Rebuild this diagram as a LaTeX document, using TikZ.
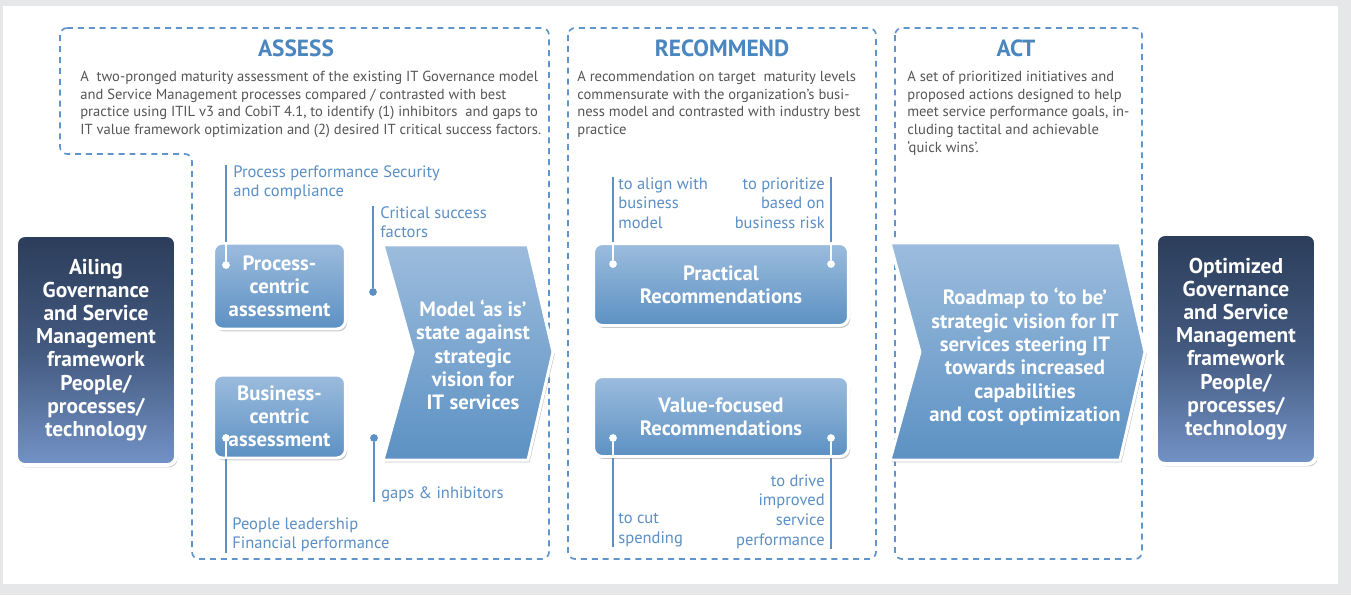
\documentclass[tikz,border=0pt]{standalone}
\usepackage{fontspec}
\setmainfont{PT Sans}
\usetikzlibrary{positioning,calc,shadows}
\definecolor{titleblue}{HTML}{4A86C0}
\definecolor{tagblue}{HTML}{5B8FC6}
\definecolor{dashblue}{HTML}{5F94CC}
\definecolor{descgray}{HTML}{555555}
\definecolor{boxtop}{HTML}{9CBCDD}
\definecolor{boxbot}{HTML}{5C91C3}
\definecolor{navytop}{HTML}{2B3D5A}
\definecolor{navymid}{HTML}{43597F}
\definecolor{navybot}{HTML}{7393C6}
\definecolor{panelgray}{HTML}{E6E7E8}
\tikzset{
    x=0.02cm, y=-0.02cm,
    phase/.style={draw=dashblue, line width=0.95pt, dash pattern=on 3.4pt off 2.8pt, rounded corners=4pt},
    phasetitle/.style={text=titleblue, font=\bfseries\fontsize{13.3}{15}\selectfont},
    phasetext/.style={text=descgray, font=\fontsize{8.3}{10}\selectfont, align=left, anchor=north west, inner sep=0pt},
    softshadow/.style={drop shadow={shadow xshift=0.9pt, shadow yshift=-1.4pt, fill=black, opacity=0.22}},
    endbox/.style={draw=white, line width=2.2pt, rounded corners=5pt, top color=navytop, bottom color=navybot, middle color=navymid,
        text=white, font=\bfseries\fontsize{12.2}{13.2}\selectfont, align=center, inner sep=0pt, softshadow},
    stepbox/.style={draw=white, line width=1.7pt, rounded corners=5pt, top color=boxtop, bottom color=boxbot,
        text=white, font=\bfseries\fontsize{11.8}{13.1}\selectfont, align=center, inner sep=0pt, softshadow},
    chevron/.style={draw=white, line width=1.7pt, top color=boxtop, bottom color=boxbot, softshadow},
    chevtext/.style={text=white, font=\bfseries\fontsize{11.8}{13.3}\selectfont, align=center},
    tag/.style={text=tagblue, font=\fontsize{9.4}{11.3}\selectfont, inner sep=0pt},
    tagline/.style={draw=tagblue, line width=1.1pt},
    tagdot/.style={circle, inner sep=0pt, minimum size=4.4pt}
}

\begin{document}
\begin{tikzpicture}
    \useasboundingbox (0,0) rectangle (1351,595);
    \fill[panelgray] (0,0) rectangle (1351,595);
    \fill[white] (3,6) rectangle (1338,584);

    % the three phases
    \draw[phase] (60,28) -- (549,28) -- (549,559) -- (192,559) -- (192,154) -- (60,154) -- cycle;
    \draw[phase] (568,28) rectangle (876,559);
    \draw[phase] (895,28) rectangle (1142,559);

    \node[phasetitle] (assess) at (296,48) {ASSESS};
    \node[phasetitle] (recommend) at (722,48) {RECOMMEND};
    \node[phasetitle] (act) at (1016,48) {ACT};

    \node[phasetext] (assesstxt) at (80,71) {A\ \ two-pronged maturity assessment of the existing IT Governance model\\
        and Service Management processes compared / contrasted with best\\
        practice using ITIL v3 and CobiT 4.1, to identify (1) inhibitors\ \ and gaps to\\
        IT value framework optimization and (2) desired IT critical success factors.};
    \node[phasetext] (recotxt) at (577,71) {A recommendation on target\ \ maturity levels\\
        commensurate with the organization’s busi-\\
        ness model and contrasted with industry best\\
        practice};
    \node[phasetext] (acttxt) at (907,71) {A set of prioritized initiatives and\\
        proposed actions designed to help\\
        meet service performance goals, in-\\
        cluding tactital and achievable\\
        ‘quick wins’.};

    % start and end state
    \node[endbox, minimum width=3.2cm, minimum height=4.6cm] (ailing) at (96,350)
        {Ailing\\Governance\\and Service\\Management\\framework\\People/\\processes/\\technology};
    \node[endbox, minimum width=3.2cm, minimum height=4.6cm] (optimized) at (1236,349)
        {Optimized\\Governance\\and Service\\Management\\framework\\People/\\processes/\\technology};

    % assessment boxes
    \node[stepbox, minimum width=2.64cm, minimum height=1.72cm] (proc) at (279.5,286) {Process-\\centric\\assessment};
    \node[stepbox, minimum width=2.64cm, minimum height=1.66cm] (bus) at (279.5,416.5) {Business-\\centric\\assessment};

    % recommendation boxes
    \node[stepbox, minimum width=5.1cm, minimum height=1.64cm] (prac) at (721,284.5) {Practical\\Recommendations};
    \node[stepbox, minimum width=5.1cm, minimum height=1.6cm] (valf) at (721,416.5) {Value-focused\\Recommendations};

    % chevrons
    \path[chevron] (383,245) -- (528,245) -- (553,352) -- (528,460) -- (383,460) -- (413,352) -- cycle;
    \node[chevtext] (asis) at (473,355) {Model ‘as is’\\state against\\strategic\\vision for\\IT services};
    \path[chevron] (890,243) -- (1120,243) -- (1145,352) -- (1120,460) -- (890,460) -- (920,352) -- cycle;
    \node[chevtext] (roadmap) at (1025,357) {Roadmap to ‘to be’\\strategic vision for IT\\services steering IT\\towards increased\\capabilities\\and cost optimization};

    % callouts of the assessment
    \node[tag, anchor=north west, align=left] (perf) at (233,165) {Process performance Security\\and compliance};
    \node[tagdot, fill=white] (perfdot) at (226,265) {};
    \draw[tagline] (perfdot |- perf.north) -- (perfdot |- proc.north);
    \draw[tagline, draw=white] (perfdot |- proc.north) -- (perfdot);

    \node[tag, anchor=north west, align=left] (csf) at (380,206) {Critical success\\factors};
    \node[tagdot, fill=tagblue] (csfdot) at (373,292) {};
    \draw[tagline] (csfdot |- csf.north) -- (csfdot);

    \node[tag, anchor=north west, align=left] (people) at (232,517) {People leadership\\Financial performance};
    \node[tagdot, fill=white] (peopledot) at (226,438) {};
    \draw[tagline, draw=white] (peopledot) -- (peopledot |- bus.south);
    \draw[tagline] (peopledot |- bus.south) -- (peopledot |- people.south);

    \node[tag, anchor=north west, align=left] (gaps) at (381,486) {gaps \& inhibitors};
    \node[tagdot, fill=tagblue] (gapsdot) at (374,438) {};
    \draw[tagline] (gapsdot) -- (gapsdot |- gaps.south);

    % callouts of the recommendations
    \node[tag, anchor=north west, align=left] (align) at (618,177) {to align with\\business\\model};
    \node[tagdot, fill=white] (aligndot) at (613,264) {};
    \draw[tagline] (aligndot |- align.north) -- (aligndot |- prac.north);
    \draw[tagline, draw=white] (aligndot |- prac.north) -- (aligndot);

    \node[tag, anchor=north east, align=right] (risk) at (825,177) {to prioritize\\based on\\business risk};
    \node[tagdot, fill=white] (riskdot) at (831,264) {};
    \draw[tagline] (riskdot |- risk.north) -- (riskdot |- prac.north);
    \draw[tagline, draw=white] (riskdot |- prac.north) -- (riskdot);

    \node[tag, anchor=north west, align=left] (cut) at (618,513) {to cut\\spending};
    \node[tagdot, fill=white] (cutdot) at (613,438) {};
    \draw[tagline, draw=white] (cutdot) -- (cutdot |- valf.south);
    \draw[tagline] (cutdot |- valf.south) -- (cutdot |- cut.south);

    \node[tag, anchor=north east, align=right] (drive) at (825,474) {to drive\\improved\\service\\performance};
    \node[tagdot, fill=white] (drivedot) at (831,438) {};
    \draw[tagline, draw=white] (drivedot) -- (drivedot |- valf.south);
    \draw[tagline] (drivedot |- valf.south) -- (drivedot |- drive.south);
\end{tikzpicture}
\end{document}
